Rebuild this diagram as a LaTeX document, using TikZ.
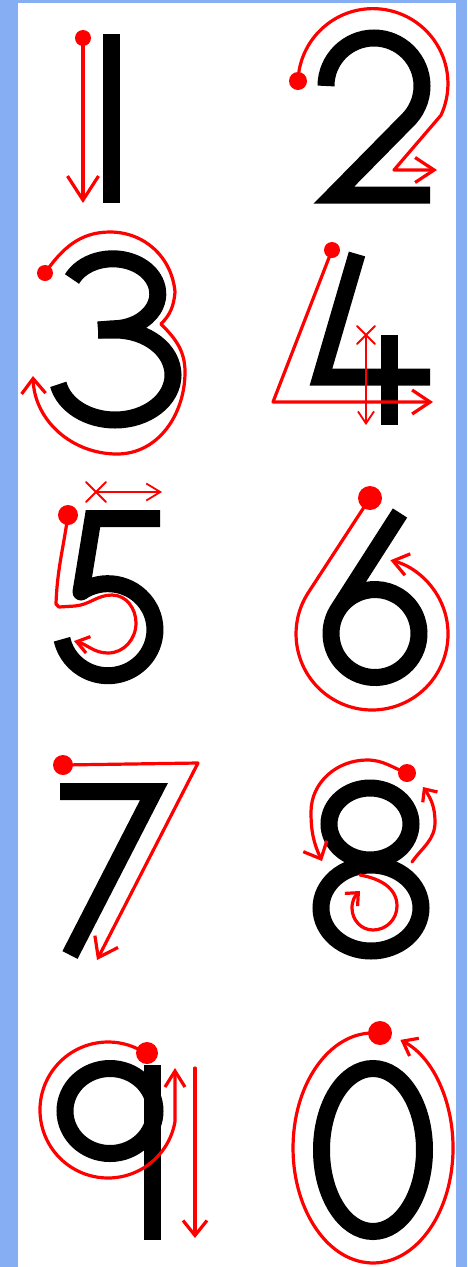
\documentclass[tikz,border=0pt]{standalone}
\usetikzlibrary{arrows.meta}
\definecolor{bgblue}{RGB}{134,174,242}
\begin{document}
\begin{tikzpicture}[x=1pt,y=-1pt,
  digit/.style={black,line width=17pt,line cap=butt,line join=miter},
  trace/.style={red,line width=3.2pt,line cap=round,line join=round},
  hair/.style={red,line width=1.8pt,line cap=round},
  ar/.style 2 args={-{Straight Barb[length=#1pt,width=#2pt]}}]
\useasboundingbox (0,0) rectangle (467,1267);
\fill[bgblue] (0,0) rectangle (467,1267);
\fill[white] (18,3) rectangle (456,1267);
% 1
\draw[digit] (111,34) -- (111,203);
\draw[trace, ar={24}{31}] (83,38) -- (83,203);
\fill[red] (83,38) circle (8);
% 2
\draw[digit] (326,86) arc[start angle=180,end angle=407,radius=48] -- (334,195) -- (430,195);
\draw[trace, ar={19}{25}] (298,81) arc[start angle=182,end angle=385,radius=75] -- (394,170) -- (437,170);
\fill[red] (298,81) circle (9);
% 3
\draw[digit] (72,279) arc[start angle=205,end angle=450,x radius=45,y radius=35] -- (98,330);
\draw[digit] (98,330) -- (115,330) arc[start angle=270,end angle=528,x radius=58,y radius=45];
\draw[trace] (45,273) to[out=55,in=180] (110,232) to[out=0,in=95] (175,292) to[out=-95,in=45] (161,324);
\draw[trace, ar={15}{24}] (161,324) to[out=-45,in=90] (185,372) to[out=-90,in=0] (117,454) to[out=180,in=-88] (33,376);
\fill[red] (45,273) circle (8);
% 4
\draw[digit] (357,254) -- (321,377) -- (430,377);
\draw[digit] (389,335) -- (389,425);
\draw[trace, ar={18}{24}] (332,250) -- (273,402) -- (433,402);
\fill[red] (332,250) circle (8);
\draw[hair] (357,326) -- (375,344) (357,344) -- (375,326);
\draw[hair, ar={12}{16}] (366,335) -- (366,425);
% 5
\draw[digit] (160,518.5) -- (93,518.5) -- (81,592);
\draw[digit] (81,592) arc[start angle=235,end angle=528,x radius=47,y radius=46];
\fill[black] (81,592) circle (8.5);
\draw[hair] (86,482) -- (106,502) (86,502) -- (106,482);
\draw[hair, ar={14}{17}] (96,492) -- (162,492);
\draw[trace, ar={12}{17}] (68,515) to[out=-98,in=88] (56,604) -- (59,607) -- (75,606) to[out=5,in=180] (112,595) to[out=0,in=90] (136,623) to[out=-90,in=0] (108,653) to[out=180,in=-15] (74,641);
\fill[red] (68,515) circle (10);
% 6
\draw[digit] (400,513) -- (337.7,610.2) arc[start angle=212,end angle=-160,radius=44];
\draw[trace, ar={15}{22}] (370,498) -- (308.3,592.6) arc[start angle=213,end angle=-76,radius=76];
\fill[red] (370,498) circle (12);
% 7
\draw[digit] (60,791.5) -- (154,791.5) -- (70,955);
\draw[trace, ar={18}{26}] (63,765) -- (198,763) -- (97,960);
\fill[red] (63,765) circle (10);
% 8
\draw[digit] (370,824) ellipse[x radius=41,y radius=36];
\draw[digit] (371,908) ellipse[x radius=50,y radius=43];
\draw[trace, ar={14}{26}] (407,773) to[out=160,in=0] (367,760) to[out=180,in=90] (311,812) to[out=-90,in=115] (322,861);
\draw[trace, ar={10}{18}] (412,862) to[out=55,in=-90] (435,822) to[out=90,in=-55] (423,787);
\draw[trace, ar={10}{18}] (360,875) to[out=-10,in=90] (397,906) to[out=-90,in=0] (373,930) to[out=180,in=-90] (352,908) to[out=90,in=-135] (360,891);
\fill[red] (407,773) circle (9);
% 9
\draw[digit] (110,1111) ellipse[x radius=45,y radius=42.5];
\draw[digit] (152.5,1065) -- (152.5,1240);
\draw[trace, ar={16}{20}] (146.4,1053.9) arc[start angle=304.4,end angle=10,radius=68] -- (175,1068);
\draw[trace, ar={15}{24}] (195,1068) -- (195,1238);
\fill[red] (147,1053) circle (11);
% 0
\draw[digit] (373,1150) ellipse[x radius=51.5,y radius=81.5];
\draw[trace, ar={13}{20}] (380,1033.4) arc[start angle=275,end angle=-70,x radius=80,y radius=115];
\fill[red] (380,1033) circle (12);
\end{tikzpicture}
\end{document}
